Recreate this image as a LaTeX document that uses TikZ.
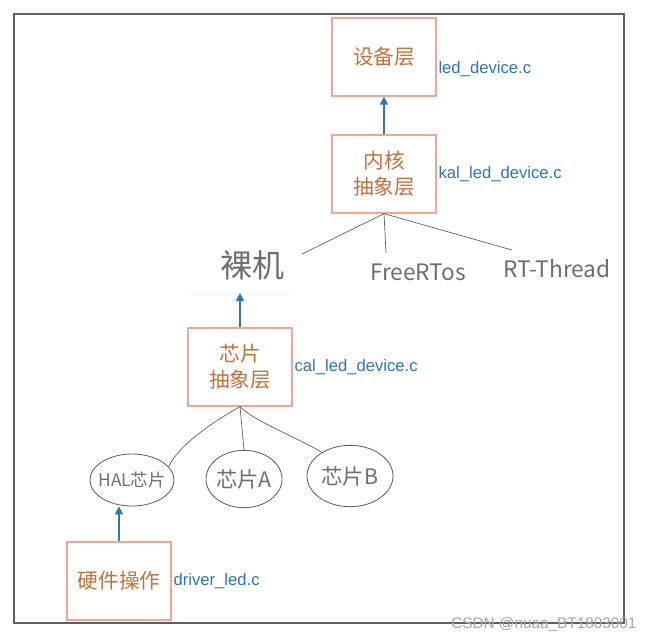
\documentclass[tikz,border=0pt]{standalone}
\usepackage{fontspec}
\setmainfont{Liberation Sans}
\newfontfamily\cjk{Noto Sans CJK SC}
\usetikzlibrary{arrows.meta,positioning,shapes.geometric}
\tikzset{every picture/.style={line width=0.75pt}}
\definecolor{layerline}{HTML}{F2A597}
\definecolor{layertext}{HTML}{C4703A}
\definecolor{filename}{HTML}{2F74B5}
\definecolor{pencil}{HTML}{5A5A5A}
\definecolor{pencillight}{HTML}{6E6E6E}
\tikzset{
  layer/.style={draw=layerline, line width=1pt, text=layertext, minimum width=78pt,
    minimum height=58.5pt, align=center, font=\cjk\fontsize{15.5}{19.5}\selectfont},
  file/.style={text=filename, font=\fontsize{12.5}{14}\selectfont, inner sep=1pt},
  hand/.style={text=pencillight, font=\cjk\fontsize{17}{20}\selectfont, inner sep=1pt},
  chipshape/.style={ellipse, draw=pencil, line width=0.6pt, inner xsep=-6pt,
    inner ysep=0pt, text=pencillight, font=\cjk\fontsize{16}{20}\selectfont},
  up/.style={-{Triangle[width=6pt,length=6pt]}, draw=filename, line width=1.1pt},
  pen/.style={draw=pencil, line width=0.5pt},
}

\begin{document}
\begin{tikzpicture}[x=0.75pt,y=-0.75pt]
    \useasboundingbox (0,0) rectangle (652,640);
    \draw[gray!75!black, line width=0.9pt] (14,14) rectangle (624,623);

    % layers
    \node[layer] (dev) at (384,57) {设备层};
    \node[layer] (kal) at (384,174) {内核\\抽象层};
    \node[layer] (chip) at (240,367) {芯片\\抽象层};
    \node[layer] (hw) at (119,581) {硬件操作};

    \node[file, right=0pt of dev.east, yshift=-9pt] (devfile) {led\_device.c};
    \node[file, right=0pt of kal.east] (kalfile) {kal\_led\_device.c};
    \node[file, right=0pt of chip.east] (chipfile) {cal\_led\_device.c};
    \node[file, right=0pt of hw.east] (hwfile) {driver\_led.c};

    % operating systems
    \node[hand, font=\cjk\fontsize{24}{26}\selectfont] (bare) at (252,265) {裸机};
    \node[hand] (rtos) at (418,272) {FreeRTos};
    \node[hand] (rtt) at (557,269) {RT-Thread};
    \coordinate (bareEnd) at (302,254);
    \coordinate (rtosEnd) at (386,253);
    \coordinate (rttEnd) at (512,250);
    \coordinate (bareFoot) at (240,293);
    \draw[gray!12] (190,294) -- (293,294);

    % chips
    \node[chipshape, minimum width=63pt, minimum height=39pt,
          font=\cjk\fontsize{13}{15}\selectfont] (hal) at (132,480) {HAL芯片};
    \node[chipshape, minimum width=57pt, minimum height=43pt] (chipA) at (244,479) {芯片A};
    \node[chipshape, minimum width=64.5pt, minimum height=46pt] (chipB) at (350,476) {芯片B};

    \draw[up] (kal.north) -- (dev.south);
    \draw[up] (chip.north) -- (bareFoot);
    \draw[up] (hw.north) -- (hw.north |- hal.south);

    \draw[pen] (kal.south) -- (bareEnd);
    \draw[pen] (kal.south) -- (rtosEnd);
    \draw[pen] (kal.south) -- (rttEnd);
    \draw[pen] (chip.south) .. controls +(-30,17) and +(10,-21) .. (hal.20);
    \draw[pen] (chip.south) -- (chipA.north);
    \draw[pen] (chip.south) .. controls +(15,15) and +(-25,-15) .. (chipB.140);

    \node[text=gray!70, font=\fontsize{11.5}{12}\selectfont, anchor=east, inner sep=0pt]
        (mark) at (637,624) {CSDN @nuaa\_BT1803001};
\end{tikzpicture}
\end{document}
